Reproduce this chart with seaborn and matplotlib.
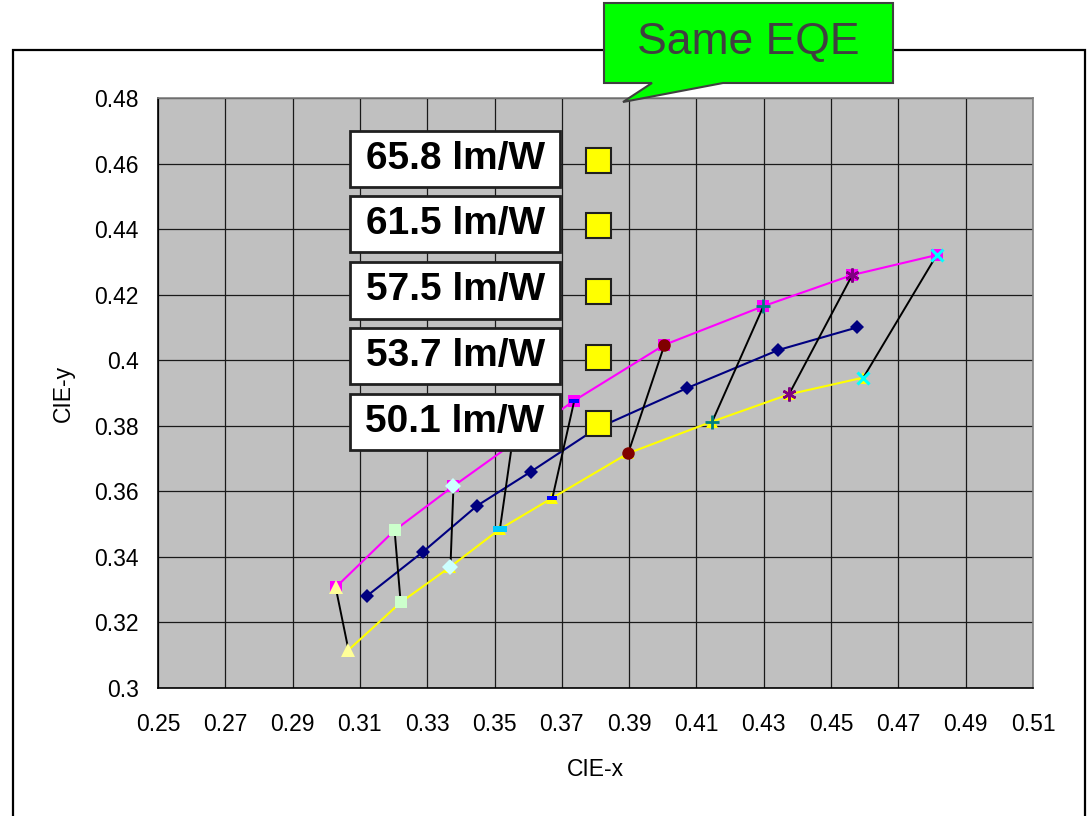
import matplotlib
matplotlib.use("Agg")
import matplotlib.pyplot as plt
import matplotlib.patches as mpatches
from matplotlib.ticker import FuncFormatter
import seaborn as sns

sns.set_style("white")
plt.rcParams["font.family"] = ["Liberation Sans", "DejaVu Sans"]
plt.rcParams["text.color"] = "black"
plt.rcParams["axes.labelcolor"] = "black"

# ---- data -------------------------------------------------------------
# upper (magenta) colour-point track
upper_x = [0.3028, 0.3203, 0.3378, 0.3552, 0.3737, 0.4005, 0.4299, 0.4563, 0.4814]
upper_y = [0.3307, 0.3481, 0.3616, 0.3744, 0.3877, 0.4047, 0.4165, 0.4260, 0.4321]
# middle (navy) track
mid_x = [0.3121, 0.3288, 0.3448, 0.3608, 0.3800, 0.4072, 0.4343, 0.4577]
mid_y = [0.3281, 0.3416, 0.3556, 0.3660, 0.3790, 0.3915, 0.4031, 0.4100]
# lower (yellow) track
lower_x = [0.3066, 0.3221, 0.3369, 0.3516, 0.3672, 0.3897, 0.4147, 0.4375, 0.4596]
lower_y = [0.3116, 0.3261, 0.3370, 0.3485, 0.3580, 0.3716, 0.3813, 0.3896, 0.3947]

# efficacy labels and their key markers
efficacy_labels = ["65.8 lm/W", "61.5 lm/W", "57.5 lm/W", "53.7 lm/W", "50.1 lm/W"]
key_x = [0.3808] * 5
key_y = [0.4611, 0.4413, 0.4211, 0.4010, 0.3809]

x_ticks = [0.25, 0.27, 0.29, 0.31, 0.33, 0.35, 0.37, 0.39, 0.41, 0.43, 0.45, 0.47, 0.49, 0.51]
y_ticks = [0.30, 0.32, 0.34, 0.36, 0.38, 0.40, 0.42, 0.44, 0.46, 0.48]

# ---- figure -----------------------------------------------------------
W, H = 1089, 816
fig = plt.figure(figsize=(W / 100, H / 100), dpi=100)
fig.patch.set_facecolor("white")


def fx(px):
    return px / W


def fy(py):
    return 1 - py / H


ax = fig.add_axes([fx(158), fy(688), fx(1033) - fx(158), fy(98) - fy(688)])
ax.set_facecolor("#C0C0C0")

# outer chart frame
fig.patches.append(mpatches.Rectangle((fx(13), fy(830)), fx(1085) - fx(13), fy(50) - fy(830),
                                      transform=fig.transFigure, fill=False,
                                      edgecolor="black", linewidth=1.6, zorder=0))

# series lines with markers
sns.lineplot(x=upper_x, y=upper_y, sort=False, estimator=None, ax=ax, color="#FF00FF",
             linewidth=1.5, marker="s", markersize=8, markerfacecolor="#FF00FF",
             markeredgecolor="#FF00FF", markeredgewidth=0, zorder=3)
sns.lineplot(x=mid_x, y=mid_y, sort=False, estimator=None, ax=ax, color="#000080",
             linewidth=1.5, marker="D", markersize=7.5, markerfacecolor="#000080",
             markeredgecolor="#000080", markeredgewidth=0, zorder=3)
sns.lineplot(x=lower_x, y=lower_y, sort=False, estimator=None, ax=ax, color="#FFFF00",
             linewidth=1.5, marker="^", markersize=9, markerfacecolor="#FFFF00",
             markeredgecolor="#FFFF00", markeredgewidth=0, zorder=3)

# tie lines joining matching points, each with its own marker style
dash_wide = [(-1, -0.4), (1, -0.4), (1, 0.4), (-1, 0.4), (-1, -0.4)]
dash_short = [(-1, -0.55), (1, -0.55), (1, 0.55), (-1, 0.55), (-1, -0.55)]
tie_styles = [
    dict(marker="^", markersize=10, markerfacecolor="#FFFF99", markeredgecolor="#FFFF99", markeredgewidth=0),
    dict(marker="s", markersize=9, markerfacecolor="#CCFFCC", markeredgecolor="#CCFFCC", markeredgewidth=0),
    dict(marker="D", markersize=8, markerfacecolor="#CCFFFF", markeredgecolor="#CCFFFF", markeredgewidth=0),
    dict(marker=dash_wide, markersize=9.5, markerfacecolor="#00CCFF", markeredgecolor="#00CCFF", markeredgewidth=0),
    dict(marker=dash_short, markersize=6.5, markerfacecolor="#0000FF", markeredgecolor="#0000FF", markeredgewidth=0),
    dict(marker="o", markersize=9, markerfacecolor="#800000", markeredgecolor="#800000", markeredgewidth=0),
    dict(marker="+", markersize=10, markerfacecolor="#008080", markeredgecolor="#008080", markeredgewidth=2),
    dict(marker=(6, 2, 0), markersize=10, markerfacecolor="#800080", markeredgecolor="#800080", markeredgewidth=1.8),
    dict(marker="x", markersize=9, markerfacecolor="#00FFFF", markeredgecolor="#00FFFF", markeredgewidth=2.2),
]
for i, st in enumerate(tie_styles):
    sns.lineplot(x=[upper_x[i], lower_x[i]], y=[upper_y[i], lower_y[i]], sort=False,
                 estimator=None, ax=ax, color="black", linewidth=1.4, zorder=4, **st)

# key markers next to the efficacy labels
sns.lineplot(x=key_x, y=key_y, sort=False, estimator=None, ax=ax, linestyle="none",
             marker="s", markersize=18, markerfacecolor="#FFFF00",
             markeredgecolor="#202020", markeredgewidth=1.5, zorder=6)

# efficacy label boxes
box_x0, box_x1 = 0.3071, 0.3695
for label, yk in zip(efficacy_labels, key_y):
    h = 0.0172
    ax.add_patch(mpatches.Rectangle((box_x0, yk - h / 2 + 0.0002), box_x1 - box_x0, h,
                                    facecolor="white", edgecolor="#202020",
                                    linewidth=2, zorder=7))
    ax.text((box_x0 + box_x1) / 2, yk + 0.0002, label, ha="center", va="center",
            fontsize=28, fontweight="bold", color="black", zorder=8)

# axes styling
ax.set_xlim(0.25, 0.51)
ax.set_ylim(0.30, 0.48)
ax.set_xticks(x_ticks)
ax.set_yticks(y_ticks)
fmt = FuncFormatter(lambda v, p: f"{round(v, 2):g}")
ax.xaxis.set_major_formatter(fmt)
ax.yaxis.set_major_formatter(fmt)
ax.grid(True, color="#1a1a1a", linewidth=0.9)
ax.set_axisbelow(True)
for side in ["left", "bottom"]:
    ax.spines[side].set_color("black")
    ax.spines[side].set_linewidth(1.2)
for side in ["top", "right"]:
    ax.spines[side].set_color("#808080")
    ax.spines[side].set_linewidth(1.2)
ax.tick_params(axis="both", direction="out", length=6, width=1, color="black",
               labelsize=16.5, labelcolor="black", pad=8)
ax.tick_params(axis="x", pad=12)
ax.set_xlabel("CIE-x", fontsize=16.5, labelpad=16, color="black")
ax.set_ylabel("CIE-y", fontsize=16.5, labelpad=14, color="black")

# "Same EQE" callout with pointer
callout_px = [(604, 3), (893, 3), (893, 83), (723, 83), (623, 102), (652, 83), (604, 83)]
fig.patches.append(mpatches.Polygon([(fx(px), fy(py)) for px, py in callout_px], closed=True,
                                    transform=fig.transFigure, facecolor="#00FF00",
                                    edgecolor="#404040", linewidth=1.5, zorder=10))
fig.text(fx(748.5), fy(43), "Same EQE", ha="center", va="center", fontsize=32,
         color="#404040", zorder=11)

fig.savefig("out.png", dpi=100)
